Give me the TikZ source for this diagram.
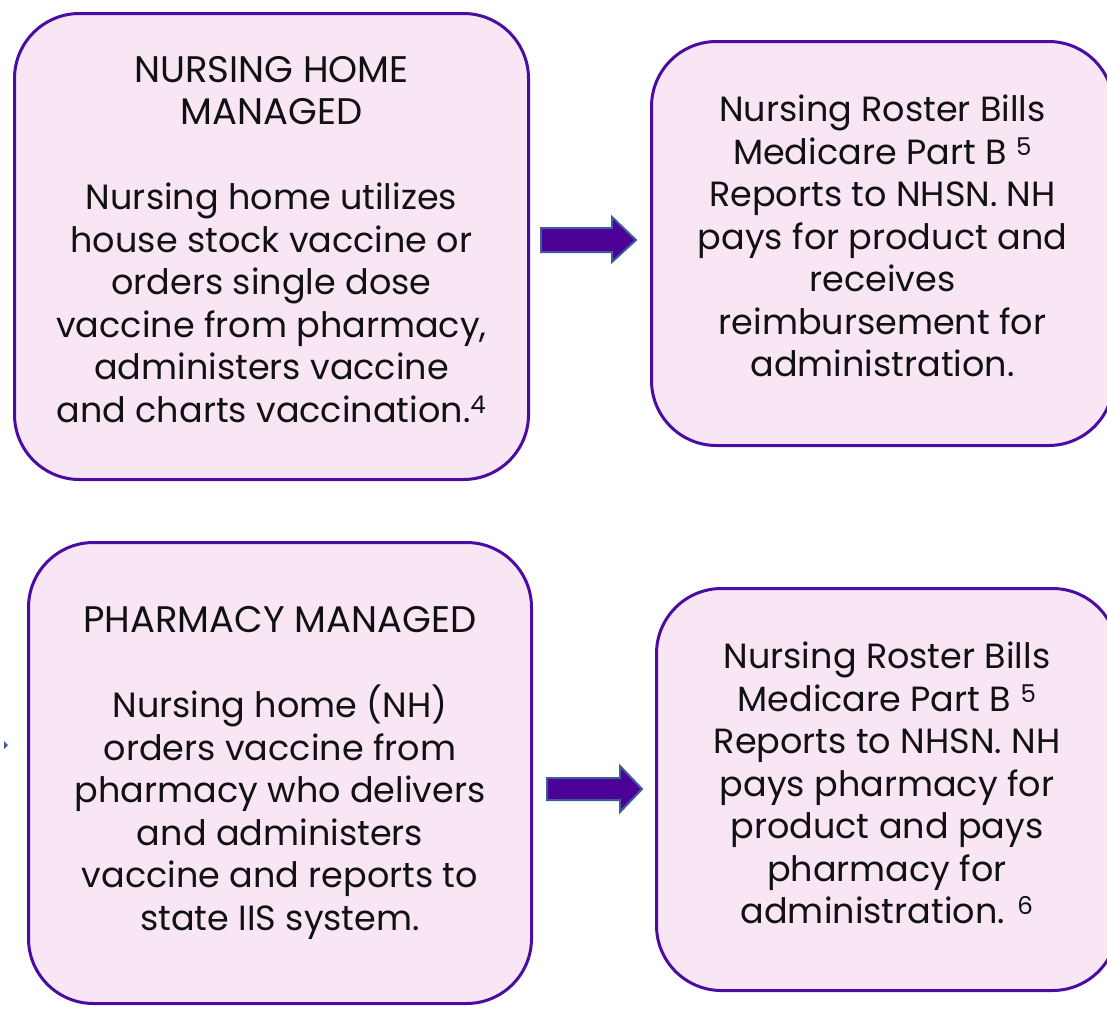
\documentclass[tikz,border=0pt]{standalone}
\usepackage{fontspec}
\setmainfont{Poppins}
\definecolor{boxfill}{HTML}{F8E6F5}
\definecolor{boxline}{HTML}{4A0CA3}
\definecolor{arrfill}{HTML}{4B0096}
\definecolor{arrline}{HTML}{3F5B9C}
\definecolor{txt}{HTML}{111111}
\newcommand{\ttl}[1]{{\fontsize{37}{42.5}\selectfont #1}}
\begin{document}
\begin{tikzpicture}[x=1pt,y=-1pt,
  card/.style={draw=boxline, fill=boxfill, line width=3pt, rounded corners=65pt, inner sep=0pt},
  cardtext/.style={align=center, text=txt, font=\fontsize{35}{42.5}\selectfont, inner sep=0pt},
  blockarrow/.style={draw=arrline, fill=arrfill, line width=2pt, line join=miter}]
\useasboundingbox (0,0) rectangle (1107,1009);
\clip (0,0) rectangle (1107,1009);
\fill[white] (0,0) rectangle (1107,1009);

\node[card, minimum width=514pt, minimum height=466pt] (b1) at (271.5,246.5) {};
\node[cardtext] (t1) at ([yshift=7pt]b1.center)
 {\ttl{NURSING HOME}\\\ttl{MANAGED}\\[42.5pt]Nursing home utilizes\\house stock vaccine or\\orders single dose\\vaccine from pharmacy,\\administers vaccine\\and charts vaccination.\textsuperscript{4}};

\node[card, minimum width=462pt, minimum height=404pt] (b2) at (882.5,243.5) {};
\node[cardtext] (t2) at ([yshift=7.5pt]b2.center)
 {Nursing Roster Bills\\Medicare Part B \textsuperscript{5}\\Reports to NHSN. NH\\pays for product and\\receives\\reimbursement for\\administration.};

\node[card, minimum width=503pt, minimum height=461pt] (b3) at (280,773) {};
\node[cardtext] (t3) at (b3.center)
 {\ttl{PHARMACY MANAGED}\\[42.5pt]Nursing home (NH)\\orders vaccine from\\pharmacy who delivers\\and administers\\vaccine and reports to\\state IIS system.};

\node[card, minimum width=461pt, minimum height=402pt] (b4) at (887,789.5) {};
\node[cardtext] (t4) at ([yshift=6.5pt]b4.center)
 {Nursing Roster Bills\\Medicare Part B \textsuperscript{5}\\Reports to NHSN. NH\\pays pharmacy for\\product and pays\\pharmacy for\\administration. \textsuperscript{6}};

% block arrows
\draw[blockarrow] (541,228) -- (612,228) -- (612,217) -- (636,240) -- (612,262) -- (612,252) -- (541,252) -- cycle;
\draw[blockarrow] (547,778) -- (620,778) -- (620,766) -- (642,789) -- (620,812) -- (620,800) -- (547,800) -- cycle;

% small mark at left
\fill[arrline] (4,741) -- (8,745) -- (4,749) -- cycle;
\end{tikzpicture}
\end{document}
